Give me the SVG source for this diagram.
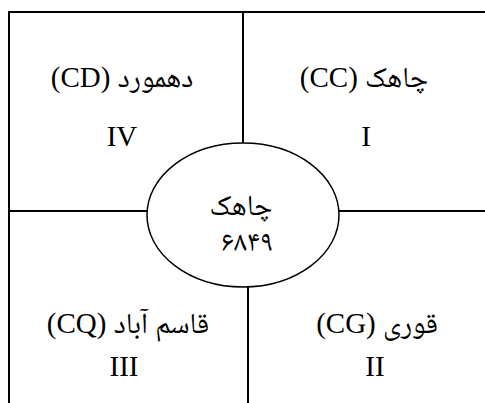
<svg xmlns="http://www.w3.org/2000/svg" width="485" height="403" viewBox="0 0 485 403">
<style>
.ln{stroke:#000;stroke-width:2;fill:none}
.el{stroke:#000;stroke-width:1.5;fill:#fff}
.t{font-family:"Liberation Serif","Noto Naskh Arabic","DejaVu Serif","DejaVu Sans",serif;font-size:29px;fill:#000;text-anchor:middle}
</style>
<rect width="485" height="403" fill="#fff"/>
<g id="connectors">
<path class="ln" d="M8,12H485M9,12V403"/>
<path class="ln" d="M243,12V143"/>
<path class="ln" d="M248,287V403"/>
<path class="ln" d="M9,211H147.2"/>
<path class="ln" d="M338.8,211H485"/>
</g>
<g id="center">
<ellipse class="el" cx="243" cy="215" rx="96" ry="72"/>
<text class="t" x="241" y="215" direction="rtl">چاهک</text>
<text class="t" x="247" y="251">۶۸۴۹</text>
</g>
<g id="q1">
<text class="t" x="364" y="87" direction="rtl">چاهک (CC)</text>
<text class="t" x="366" y="146">I</text>
</g>
<g id="q4">
<text class="t" x="122" y="87" direction="rtl">دهمورد (CD)</text>
<text class="t" x="122" y="146">IV</text>
</g>
<g id="q3">
<text class="t" x="128" y="333" direction="rtl">قاسم آباد (CQ)</text>
<text class="t" x="124" y="376">III</text>
</g>
<g id="q2">
<text class="t" x="377" y="333" direction="rtl">قوری (CG)</text>
<text class="t" x="375" y="376">II</text>
</g>
</svg>
